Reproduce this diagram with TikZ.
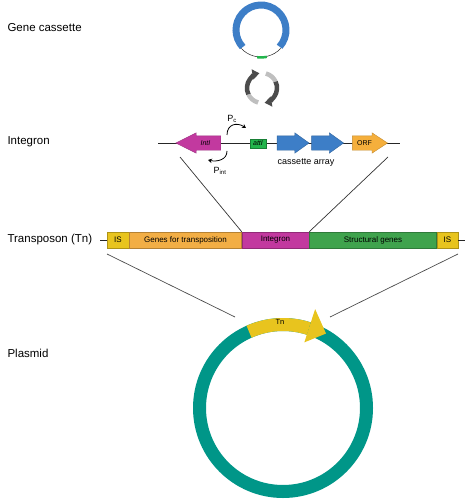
\documentclass[tikz,border=0pt]{standalone}
\usepackage{fontspec}
\setmainfont{Liberation Sans}
\usepackage{tikz}
\usetikzlibrary{shapes.arrows,arrows.meta,positioning}
\tikzset{every node/.append style={align=center}}
\definecolor{cassblue}{RGB}{61,126,199}
\definecolor{intcolor}{RGB}{194,57,159}
\definecolor{attcolor}{RGB}{34,181,76}
\definecolor{orfcolor}{RGB}{245,175,60}
\definecolor{iscolor}{RGB}{232,196,30}
\definecolor{tposcolor}{RGB}{242,174,69}
\definecolor{structcolor}{RGB}{63,163,77}
\definecolor{plasmidcolor}{RGB}{0,150,136}

\begin{document}
\begin{tikzpicture}[x=1pt, y=1pt,
    level/.style={anchor=west, font=\fontsize{11.5}{13}\selectfont},
    gene/.style={single arrow, fill=#1, draw=#1!80!black, line width=0.4pt, minimum width=20pt, single arrow head extend=3pt, text height=5pt, text depth=0pt, inner xsep=0pt, inner ysep=4.5pt, font=\fontsize{7}{8}\selectfont\itshape},
    seg/.style={draw=#1!75!black, fill=#1, line width=0.5pt, minimum height=16pt, inner sep=0pt, font=\fontsize{8}{9}\selectfont},
    promoter/.style={-{Stealth[length=4pt, width=4.5pt]}, line width=0.8pt},
    swaparrow/.style={line width=4.5pt},
    link/.style={black!80, line width=0.7pt},
    backbone/.style={black!85, line width=0.6pt}
]
    \useasboundingbox (0,0) rectangle (466,-500);

    % Level labels
    \node[level] (lcassette) at (4,-28) {Gene cassette};
    \node[level] (lintegron) at (4,-142) {Integron};
    \node[level] (ltransposon) at (4,-240) {Transposon (Tn)};
    \node[level] (lplasmid) at (4,-353) {Plasmid};

    % Gene cassette
    \coordinate (cassette) at (261,-30);
    \draw[backbone, line width=0.5pt] (cassette) ++(223:27) arc[start angle=223, end angle=318, radius=27];
    \draw[attcolor, line width=2.5pt] (cassette) ++(262:27.5) arc[start angle=262, end angle=282, radius=27.5];
    \draw[cassblue, line width=7pt] (cassette) ++(-42:25) arc[start angle=-42, end angle=223, radius=25];

    % Exchange arrows
    \coordinate (swap) at (262,-88);
    \draw[swaparrow, black!25] (swap) ++(255:15) arc[start angle=255, end angle=205, radius=15];
    \draw[swaparrow, black!70, -{Triangle[width=10pt, length=7pt]}] (swap) ++(205:15) arc[start angle=205, end angle=100, radius=15];
    \draw[swaparrow, black!25] (swap) ++(75:15) arc[start angle=75, end angle=25, radius=15];
    \draw[swaparrow, black!70, -{Triangle[width=10pt, length=7pt]}] (swap) ++(25:15) arc[start angle=25, end angle=-80, radius=15];

    % Integron
    \coordinate (intleft) at (158,-143);
    \coordinate (intright) at (400,-143);
    \draw[backbone] (intleft) -- (intright);
    \node[gene=intcolor, shape border rotate=180, minimum height=45pt, single arrow tip angle=53] (inti) at (205.5,-143) {IntI};
    \node[draw=attcolor!70!black, fill=attcolor, minimum width=16pt, minimum height=9pt, inner sep=0pt, font=\fontsize{7}{8}\selectfont\itshape] (atti) at (258,-143.5) {attI};
    \node[gene=cassblue, minimum height=32pt, single arrow tip angle=71] (casone) at (288,-143) {};
    \node[gene=cassblue, minimum height=32pt, single arrow tip angle=71, right=2pt of casone] (castwo) {};
    \node[gene=orfcolor, minimum height=35pt, single arrow tip angle=67, font=\fontsize{7}{8}\selectfont] (orf) at (364.5,-143) {ORF};
    \node[font=\fontsize{9}{10}\selectfont] (casarray) at (306,-163) {cassette array};

    % Promoters
    \coordinate (pcstart) at (227,-135);
    \coordinate (pcend) at (246,-128);
    \draw[promoter] (pcstart) .. controls (227,-124) and (237,-122) .. (pcend);
    \node[font=\fontsize{9}{10}\selectfont] (pc) at (232,-119) {P\textsubscript{c}};
    \coordinate (pintstart) at (227,-151);
    \coordinate (pintend) at (208,-160);
    \draw[promoter] (pintstart) .. controls (227,-160) and (217,-162) .. (pintend);
    \node[font=\fontsize{9}{10}\selectfont] (pint) at (220,-171) {P\textsubscript{int}};

    % Transposon
    \node[seg=iscolor, minimum width=22pt] (isleft) at (118,-240) {IS};
    \node[seg=tposcolor, minimum width=112pt, right=0pt of isleft] (tposgenes) {Genes for transposition};
    \node[seg=intcolor, minimum width=67pt, right=0pt of tposgenes] (integronseg) {Integron};
    \node[seg=structcolor, minimum width=127pt, right=0pt of integronseg] (structgenes) {Structural genes};
    \node[seg=iscolor, minimum width=21pt, right=0pt of structgenes] (isright) {IS};
    \coordinate (tnleft) at (100,-240);
    \coordinate (tnright) at (465,-240);
    \draw[backbone] (tnleft) -- (isleft);
    \draw[backbone] (isright) -- (tnright);

    % Integron zoom lines
    \coordinate (intfootl) at (180,-157);
    \coordinate (intfootr) at (388,-157);
    \draw[link] (intfootl) -- (integronseg.north west);
    \draw[link] (intfootr) -- (integronseg.north east);

    % Plasmid
    \node[circle, draw=plasmidcolor, line width=13pt, minimum size=167pt, inner sep=0pt] (plasmid) at (283,-408) {};
    \draw[iscolor, line width=13pt] (plasmid.center) ++(114:83.5) arc[start angle=114, end angle=72, radius=83.5];
    \fill[iscolor] (plasmid.center) ++(72:69) -- ([shift={(72:104)}]plasmid.center) -- ([shift={(60:86)}]plasmid.center) -- cycle;
    \node[font=\fontsize{7.5}{8}\selectfont] (tn) at (280,-322) {Tn};

    % Transposon zoom lines
    \coordinate (tnfootl) at (107,-254);
    \coordinate (tnfootr) at (458,-254);
    \coordinate (plasl) at (235,-317);
    \coordinate (plasr) at (330,-317);
    \draw[link, black!70] (tnfootl) -- (plasl);
    \draw[link, black!70] (tnfootr) -- (plasr);

\end{tikzpicture}
\end{document}
